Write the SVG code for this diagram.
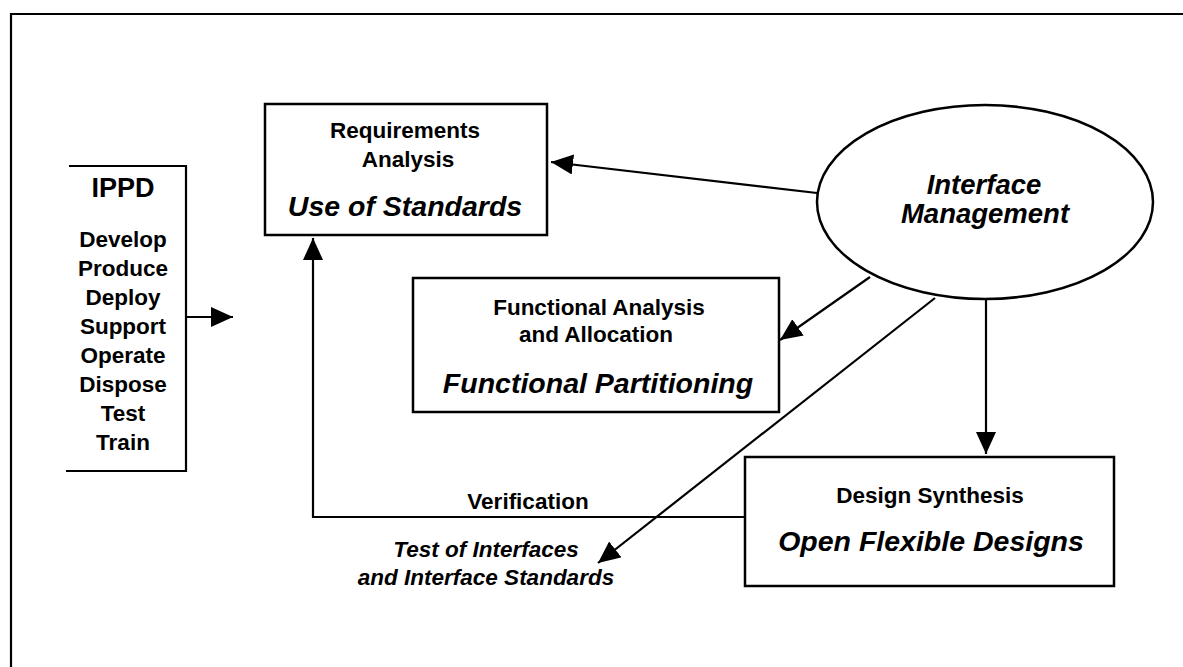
<svg xmlns="http://www.w3.org/2000/svg" width="1183" height="667" viewBox="0 0 1183 667">
<style>
.box{fill:#fff;stroke:#000;stroke-width:2.5}
.ln{fill:none;stroke:#000;stroke-width:2.2}
.t{font-family:"Liberation Sans",Arial,Helvetica,sans-serif;font-weight:bold;fill:#000;text-anchor:middle}
.s{font-size:22.5px}
.b{font-size:28.5px;font-style:italic}
.e{font-size:27.5px;font-style:italic}
.i{font-size:22.5px;font-style:italic}
.h{font-size:27px}
</style>
<defs>
<marker id="ah" markerUnits="userSpaceOnUse" markerWidth="24" markerHeight="22" refX="22" refY="10" orient="auto">
<path d="M0,0 L22,10 L0,20 z" fill="#000"/>
</marker>
</defs>
<rect width="1183" height="667" fill="#fff"/>
<path class="ln" d="M11,667 V14 H1183"/>
<g id="ippd">
<path class="ln" d="M69,166 H186 V471 H66" stroke-width="2.5"/>
<text class="t h" x="123" y="197">IPPD</text>
<text class="t s" x="123" y="247">Develop</text>
<text class="t s" x="123" y="276">Produce</text>
<text class="t s" x="123" y="305">Deploy</text>
<text class="t s" x="123" y="334">Support</text>
<text class="t s" x="123" y="363">Operate</text>
<text class="t s" x="123" y="392">Dispose</text>
<text class="t s" x="123" y="421">Test</text>
<text class="t s" x="123" y="450">Train</text>
</g>
<g id="requirements">
<rect class="box" x="265" y="104" width="282" height="131"/>
<text class="t s" x="405" y="138">Requirements</text>
<text class="t s" x="408" y="167">Analysis</text>
<text class="t b" x="405" y="216">Use of Standards</text>
</g>
<g id="functional">
<rect class="box" x="413" y="278" width="366" height="134"/>
<text class="t s" x="599" y="315">Functional Analysis</text>
<text class="t s" x="596" y="342">and Allocation</text>
<text class="t b" x="598" y="393">Functional Partitioning</text>
</g>
<g id="design">
<rect class="box" x="745" y="457" width="369" height="129"/>
<text class="t s" x="930" y="503">Design Synthesis</text>
<text class="t b" x="931" y="551">Open Flexible Designs</text>
</g>
<g id="interface">
<ellipse class="box" cx="985" cy="202" rx="168" ry="97"/>
<text class="t e" x="984" y="194">Interface</text>
<text class="t e" x="985" y="223">Management</text>
</g>
<g id="connectors">
<line class="ln" x1="186" y1="317" x2="233" y2="317" marker-end="url(#ah)"/>
<line class="ln" x1="817" y1="193" x2="551" y2="162" marker-end="url(#ah)"/>
<line class="ln" x1="870" y1="277" x2="780" y2="340" marker-end="url(#ah)"/>
<line class="ln" x1="935" y1="298" x2="598" y2="563" marker-end="url(#ah)"/>
<line class="ln" x1="986" y1="299" x2="986" y2="454" marker-end="url(#ah)"/>
<polyline class="ln" points="745,517 313,517 313,238" marker-end="url(#ah)"/>
<text class="t s" x="528" y="509">Verification</text>
<text class="t i" x="486" y="557">Test of Interfaces</text>
<text class="t i" x="486" y="585">and Interface Standards</text>
</g>
</svg>
